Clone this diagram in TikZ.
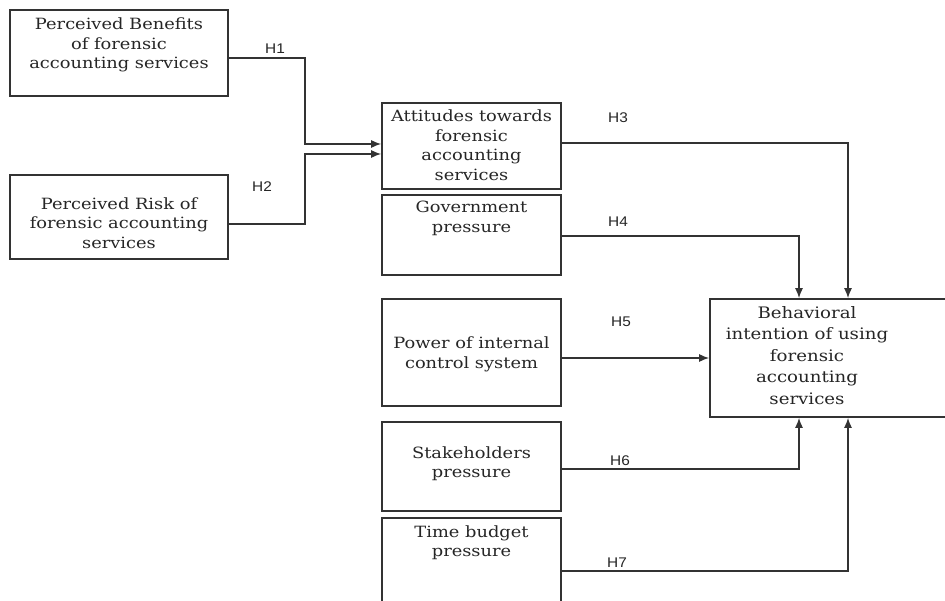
\documentclass[tikz,border=0pt]{standalone}
\usepackage{fontspec}
\setmainfont[FakeStretch=1.15]{DejaVu Serif}
\newfontfamily\hfont[FakeStretch=1.1]{Liberation Sans}
\usetikzlibrary{arrows.meta}
\definecolor{ln}{HTML}{333333}
\begin{document}
\begin{tikzpicture}[x=1pt,y=-1pt,
  box/.style={draw=ln,line width=1.6pt,rectangle,inner sep=0pt,anchor=center},
  txt/.style={align=center,font=\fontsize{15.5}{19.5}\selectfont,text=black!85,inner sep=0pt},
  btxt/.style={align=center,font=\fontsize{15.8}{21.5}\selectfont,text=black!85,inner sep=0pt},
  hl/.style={font=\hfont\fontsize{14}{15}\selectfont,text=black!85,inner sep=0pt},
  conn/.style={draw=ln,line width=1.5pt,-{Latex[length=10pt,width=8pt]}}]
\useasboundingbox (0,0) rectangle (945,601);
\clip (0,0) rectangle (945,601);
\fill[white] (0,0) rectangle (945,601);
% boxes
\node[box,minimum width=218pt,minimum height=86pt] (pb) at (119,53) {};
\node[box,minimum width=218pt,minimum height=84pt] (pr) at (119,217) {};
\node[box,minimum width=179pt,minimum height=86pt] (att) at (471.5,146) {};
\node[box,minimum width=179pt,minimum height=80pt] (gov) at (471.5,235) {};
\node[box,minimum width=179pt,minimum height=107pt] (pow) at (471.5,352.5) {};
\node[box,minimum width=179pt,minimum height=89pt] (stk) at (471.5,466.5) {};
\node[box,minimum width=179pt,minimum height=104pt] (tim) at (471.5,570) {};
\node[box,minimum width=265pt,minimum height=118pt] (beh) at (842.5,358) {};
% texts
\node[txt] (pbt) at (119,45) {Perceived Benefits\\of forensic\\accounting services};
\node[txt] (prt) at (119,223) {Perceived Risk of\\forensic accounting\\services};
\node[txt] (attt) at (471.5,145) {Attitudes towards\\forensic\\accounting\\services};
\node[txt] (govt) at (471.5,218.5) {Government\\pressure};
\node[txt] (powt) at (471.5,354.5) {Power of internal\\control system};
\node[txt] (stkt) at (471.5,463.5) {Stakeholders\\pressure};
\node[txt] (timt) at (471.5,542.5) {Time budget\\pressure};
\node[btxt] (beht) at (807,355.5) {Behavioral\\intention of using\\forensic\\accounting\\services};
% hypothesis labels
\node[hl] (l1) at (275,49) {H1};
\node[hl] (l2) at (262,187) {H2};
\node[hl] (l3) at (618,118) {H3};
\node[hl] (l4) at (618,222) {H4};
\node[hl] (l5) at (621,322) {H5};
\node[hl] (l6) at (620,461) {H6};
\node[hl] (l7) at (617,563) {H7};
% connector bend points
\coordinate (b1) at (305,58);
\coordinate (b2) at (305,224);
\coordinate (x4) at (799,0);
\coordinate (x3) at (848,0);
% connectors
\draw[conn] ([yshift=-5pt]pb.east) -- (b1) |- ([yshift=2pt]att.west);
\draw[conn] ([yshift=-7pt]pr.east) -- (b2) |- ([yshift=-8pt]att.west);
\draw[conn] ([yshift=3pt]att.east) -| (beh.north -| x3);
\draw[conn] ([yshift=-1pt]gov.east) -| (beh.north -| x4);
\draw[conn] (pow.east |- beh.west) -- (beh.west);
\draw[conn] ([yshift=-2.5pt]stk.east) -| (beh.south -| x4);
\draw[conn] ([yshift=-1pt]tim.east) -| (beh.south -| x3);
\end{tikzpicture}
\end{document}
